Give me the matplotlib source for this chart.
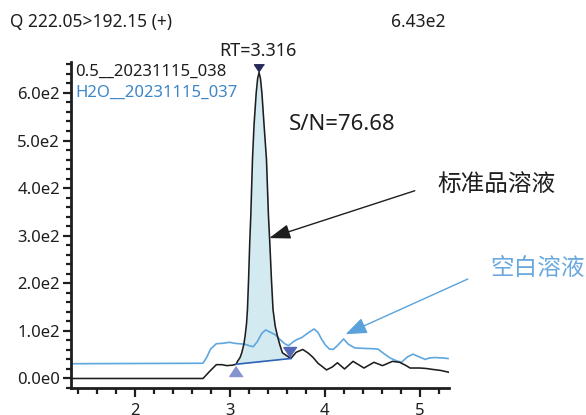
import matplotlib
matplotlib.use("Agg")
import matplotlib.pyplot as plt
from matplotlib.ticker import FixedLocator, FixedFormatter, MultipleLocator
import numpy as np

plt.rcParams['font.family'] = ['Noto Sans', 'Noto Sans CJK SC', 'DejaVu Sans']

# ---------------- data ----------------
std_t = [1.33, 2.72, 2.79, 2.86, 2.92, 2.97, 3.03, 3.07, 3.083, 3.11, 3.128, 3.15, 3.163,
         3.178, 3.188, 3.20, 3.212, 3.223, 3.241, 3.257, 3.28, 3.295, 3.31, 3.325, 3.34,
         3.363, 3.388, 3.409, 3.423, 3.44, 3.457, 3.48, 3.504, 3.53, 3.556, 3.60, 3.645,
         3.70, 3.77, 3.83, 3.88, 3.93, 3.97, 4.02, 4.08, 4.135, 4.21, 4.30, 4.415, 4.52,
         4.61, 4.715, 4.79, 4.85, 4.90, 5.00, 5.07, 5.14, 5.22, 5.31]
std_v = [0, 0, 15, 29, 29, 27, 28, 30, 36, 44, 54, 72, 89,
         115, 145, 210, 286, 342, 461, 532, 600, 630, 643, 630, 600,
         532, 461, 342, 286, 210, 145, 110, 89, 70, 54, 48, 42,
         55, 61, 53, 44, 32, 26, 18, 24, 33, 20, 36, 22, 34,
         27, 36, 34, 28, 22, 22, 21, 19, 17, 13]

blank_t = [1.33, 2.72, 2.76, 2.80, 2.86, 2.93, 3.00, 3.05, 3.10, 3.16, 3.22, 3.25, 3.29,
           3.34, 3.38, 3.43, 3.48, 3.53, 3.58, 3.62, 3.67, 3.71, 3.76, 3.80, 3.85, 3.89,
           3.93, 3.97, 4.01, 4.05, 4.09, 4.13, 4.20, 4.25, 4.32, 4.45, 4.56, 4.62, 4.69,
           4.76, 4.81, 4.87, 4.93, 4.99, 5.06, 5.10, 5.16, 5.25, 5.30]
blank_v = [31, 32, 45, 62, 73, 74, 76, 74, 73, 72, 68, 67, 77,
           95, 102, 97, 92, 82, 73, 69, 77, 82, 86, 92, 99, 104,
           97, 82, 70, 62, 61, 68, 83, 72, 64, 63, 62, 53, 43,
           37, 34, 45, 51, 46, 40, 43, 44, 43, 42]

peak_rt = 3.31
peak_h = 643
base_start = (3.07, 30)
base_end = (3.645, 42)

x_major = [2, 3, 4, 5]
y_major = [0, 100, 200, 300, 400, 500, 600]
y_labels = ["0.0e0", "1.0e2", "2.0e2", "3.0e2", "4.0e2", "5.0e2", "6.0e2"]

# ---------------- figure ----------------
W, H = 586, 415
fig = plt.figure(figsize=(W / 100, H / 100), dpi=100)
ax = fig.add_axes([71 / W, 1 - 388 / H, (449 - 71) / W, (388 - 62) / H])
ax.set_xlim(1.33, 5.31)
ax.set_ylim(-20, 665)

# peak area fill
st = np.array(std_t)
sv = np.array(std_v)
mask = (st >= base_start[0]) & (st <= base_end[0])
ft = np.concatenate([[base_start[0]], st[mask], [base_end[0]]])
fv = np.concatenate([[base_start[1]], sv[mask], [base_end[1]]])
fb = np.interp(ft, [base_start[0], base_end[0]], [base_start[1], base_end[1]])
ax.fill_between(ft, fb, fv, color='#d3eaf1', lw=0, zorder=1)

ax.plot(blank_t, blank_v, color='#5ea7df', lw=1.2, zorder=2)
ax.plot(std_t, std_v, color='#1e1e1e', lw=1.15, zorder=3)
ax.plot([base_start[0], base_end[0]], [base_start[1], base_end[1]], color='#2d62b8', lw=1.2, zorder=4)

tri_up = [(0, 0.75), (-1, -0.75), (1, -0.75)]
tri_dn = [(0, -0.75), (-1, 0.75), (1, 0.75)]
ax.plot([3.063], [15], marker=tri_up, ms=9.6, color='#8593cf', ls='none', zorder=5, clip_on=False)
ax.plot([3.635], [55.5], marker=tri_dn, ms=9.6, color='#5568b6', ls='none', zorder=5, clip_on=False)
ax.plot([peak_rt], [652], marker=tri_dn, ms=7.2, color='#272b5c', ls='none', zorder=5, clip_on=False)

# arrows
ax.annotate('', xy=(3.417, 295), xytext=(4.95, 394.5),
            arrowprops=dict(arrowstyle='-|>,head_length=1.3,head_width=0.45',
                            color='#1e1e1e', lw=1.0, shrinkA=0, shrinkB=0),
            annotation_clip=False, zorder=6)
ax.annotate('', xy=(4.221, 93), xytext=(5.508, 209),
            arrowprops=dict(arrowstyle='-|>,head_length=1.3,head_width=0.5',
                            color='#5aa2dc', lw=1.0, shrinkA=0, shrinkB=0),
            annotation_clip=False, zorder=6)

# axes styling
for s in ['top', 'right']:
    ax.spines[s].set_visible(False)
for s in ['left', 'bottom']:
    ax.spines[s].set_linewidth(2.0)
    ax.spines[s].set_color('#1e1e1e')

ax.xaxis.set_major_locator(FixedLocator(x_major))
ax.xaxis.set_minor_locator(MultipleLocator(0.2))
ax.yaxis.set_major_locator(FixedLocator(y_major))
ax.yaxis.set_major_formatter(FixedFormatter(y_labels))
ax.yaxis.set_minor_locator(MultipleLocator(20))
ax.tick_params(axis='x', which='major', length=6.5, width=1.6, pad=4, labelsize=12, colors='#1e1e1e')
ax.tick_params(axis='x', which='minor', length=4.3, width=1.6, colors='#1e1e1e')
ax.tick_params(axis='y', which='major', length=6, width=1.6, pad=2, labelsize=12, colors='#1e1e1e')
ax.tick_params(axis='y', which='minor', length=3.6, width=1.6, colors='#1e1e1e')

# texts (figure pixel positions)
def ftext(x, y, s, **kw):
    fig.text(x / W, 1 - y / H, s, **kw)

ftext(10, 27, "Q 222.05>192.15 (+)", fontsize=12.5, color='#1e1e1e', va='baseline', ha='left')
ftext(446, 27, "6.43e2", fontsize=12.5, color='#1e1e1e', va='baseline', ha='right')
ftext(258, 56.5, "RT=3.316", fontsize=13, color='#1e1e1e', va='baseline', ha='center')
ftext(75, 76, "0.5__20231115_038", fontsize=12, color='#1e1e1e', va='baseline', ha='left')
ftext(75, 97, "H2O__20231115_037", fontsize=12, color='#3d86c8', va='baseline', ha='left')
ftext(289, 130, "S/N=76.68", fontsize=16, color='#1e1e1e', va='baseline', ha='left',
      fontweight='light')
ftext(437, 191, "标准品溶液", fontsize=17, color='#1e1e1e', va='baseline', ha='left',
      family=['Noto Sans CJK SC', 'DejaVu Sans'], fontweight='light')
ftext(490, 275, "空白溶液", fontsize=17, color='#6aa8de', va='baseline', ha='left',
      family=['Noto Sans CJK SC', 'DejaVu Sans'], fontweight='light')

fig.savefig("out.png", dpi=100)
